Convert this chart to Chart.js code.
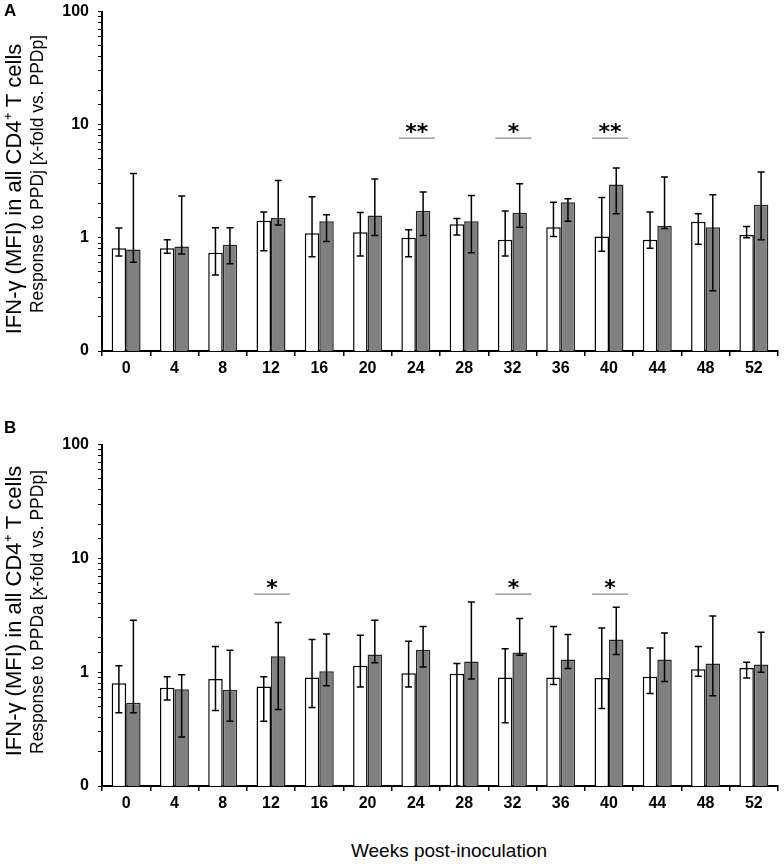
<!DOCTYPE html>
<html>
<head>
<meta charset="utf-8">
<script src="https://cdn.jsdelivr.net/npm/chart.js@4.4.0/dist/chart.umd.min.js"></script>
<style>
  body { margin: 0; background: #fff; width: 784px; height: 867px; position: relative; overflow: hidden;
         font-family: 'Liberation Sans', Arial, sans-serif; }
  canvas { position: absolute; left: 0; }
  #chartA { top: -7px; }
  #chartB { top: 426px; }
  .letter { position: absolute; left: 4px; font-weight: bold; font-size: 17px; line-height: 17px; }
  #xTitle { position: absolute; left: 249px; width: 400px; top: 840px; text-align: center;
            font-size: 19px; color: #000; }
</style>
</head>
<body>
<canvas id="chartA" width="784" height="390"></canvas>
<canvas id="chartB" width="784" height="390"></canvas>
<div class="letter" style="top:2px">A</div>
<div class="letter" style="top:419px">B</div>
<div id="xTitle">Weeks post-inoculation</div>
<script>
// week labels
const weeks = ['0', '4', '8', '12', '16', '20', '24', '28', '32', '36', '40', '44', '48', '52'];

// panel A (PPDj vs PPDp)
const aWhite   = [0.81, 0.81, 0.74, 1.42, 1.10, 1.12, 1.00, 1.32, 0.96, 1.24, 1.03, 0.96, 1.39, 1.06];
const aWhiteHi = [1.22, 0.96, 1.23, 1.69, 2.31, 1.68, 1.18, 1.48, 1.73, 2.06, 2.27, 1.69, 1.63, 1.26];
const aWhiteLo = [0.69, 0.73, 0.47, 0.77, 0.68, 0.69, 0.68, 1.06, 0.69, 1.03, 0.76, 0.81, 0.88, 1.00];
const aGray    = [0.79, 0.84, 0.87, 1.50, 1.40, 1.58, 1.74, 1.40, 1.67, 2.06, 2.97, 1.28, 1.24, 1.96];
const aGrayHi  = [3.70, 2.34, 1.23, 3.22, 1.60, 3.31, 2.54, 2.37, 3.01, 2.22, 4.14, 3.45, 2.41, 3.82];
const aGrayLo  = [0.61, 0.72, 0.59, 1.30, 0.93, 1.05, 1.05, 0.74, 1.24, 1.40, 1.63, 1.21, 0.34, 0.96];
const aSigWeeks = ['24', '32', '40'];
const aSigMarks = ['**', '*', '**'];

// panel B (PPDa vs PPDp)
const bWhite   = [0.80, 0.73, 0.87, 0.75, 0.90, 1.14, 0.98, 0.97, 0.90, 0.90, 0.89, 0.91, 1.06, 1.09];
const bWhiteHi = [1.14, 0.91, 1.68, 0.91, 1.94, 2.11, 1.87, 1.19, 1.61, 2.52, 2.45, 1.63, 1.68, 1.22];
const bWhiteLo = [0.44, 0.57, 0.46, 0.37, 0.49, 0.74, 0.74, 0.10, 0.36, 0.78, 0.48, 0.65, 0.92, 0.89];
const bGray    = [0.54, 0.71, 0.70, 1.38, 1.02, 1.43, 1.57, 1.24, 1.49, 1.29, 1.94, 1.29, 1.19, 1.17];
const bGrayHi  = [2.86, 0.95, 1.56, 2.73, 2.17, 2.86, 2.52, 4.14, 2.97, 2.14, 3.72, 2.21, 3.12, 2.24];
const bGrayLo  = [0.44, 0.27, 0.37, 0.47, 0.76, 1.21, 1.11, 0.87, 1.41, 1.08, 1.43, 0.83, 0.62, 1.00];
const bSigWeeks = ['12', '32', '40'];
const bSigMarks = ['*', '*', '*'];

const yTickValues = [0.1, 1, 10, 100];
const yTickText = ['0', '1', '10', '100'];

Chart.defaults.font.family = "'Liberation Sans', Arial, sans-serif";
Chart.defaults.color = '#000';

// error bars drawn on top of each bar
const errorBars = {
  id: 'errorBars',
  afterDatasetsDraw(chart) {
    const { ctx } = chart;
    const y = chart.scales.y;
    ctx.save();
    ctx.strokeStyle = '#000';
    ctx.lineWidth = 1.5;
    chart.data.datasets.forEach((ds, i) => {
      chart.getDatasetMeta(i).data.forEach((bar, j) => {
        const top = y.getPixelForValue(ds.errHi[j]);
        const bot = y.getPixelForValue(Math.max(ds.errLo[j], y.min));
        const x = bar.x;
        ctx.beginPath();
        ctx.moveTo(x, top); ctx.lineTo(x, bot);
        ctx.moveTo(x - 3.5, top); ctx.lineTo(x + 3.5, top);
        ctx.moveTo(x - 3.5, bot); ctx.lineTo(x + 3.5, bot);
        ctx.stroke();
      });
    });
    ctx.restore();
  }
};

// two-line y title and significance marks
const decor = {
  id: 'decor',
  afterDraw(chart, args, o) {
    const { ctx } = chart;
    const x = chart.scales.x, y = chart.scales.y;
    ctx.save();
    ctx.fillStyle = '#000';
    ctx.textAlign = 'center';
    ctx.textBaseline = 'middle';

    ctx.save();
    ctx.translate(15, o.title1Y);
    ctx.rotate(-Math.PI / 2);
    ctx.font = "22px 'Liberation Sans', Arial, sans-serif";
    ctx.fillText('IFN-\u03b3 (MFI) in all CD4\u207a T cells', 0, 0);
    ctx.restore();

    ctx.save();
    ctx.translate(38, o.title2Y);
    ctx.rotate(-Math.PI / 2);
    ctx.font = "17.5px 'Liberation Sans', Arial, sans-serif";
    ctx.fillText(o.title2, 0, 0);
    ctx.restore();

    const lineY = y.getPixelForValue(o.sigLevel);
    o.sigWeeks.forEach((w, k) => {
      const cx = x.getPixelForValue(weeks.indexOf(w)) + 1;
      ctx.strokeStyle = '#8a8a8a';
      ctx.lineWidth = 1.2;
      ctx.beginPath();
      ctx.moveTo(cx - 18, lineY); ctx.lineTo(cx + 18, lineY);
      ctx.stroke();
      ctx.textBaseline = 'alphabetic';
      ctx.font = "bold 22px 'DejaVu Sans', sans-serif";
      ctx.fillText(o.sigMarks[k], cx, lineY + 1);
    });
    ctx.restore();
  }
};

function makePanel(id, xHeight, white, whiteHi, whiteLo, gray, grayHi, grayLo, decorOpts) {
  return new Chart(document.getElementById(id), {
    type: 'bar',
    data: {
      labels: weeks,
      datasets: [
        { data: white, errHi: whiteHi, errLo: whiteLo, backgroundColor: '#ffffff',
          borderColor: '#000', borderWidth: 1.5 },
        { data: gray, errHi: grayHi, errLo: grayLo, backgroundColor: '#808080',
          borderColor: '#262626', borderWidth: 1.5 }
      ]
    },
    options: {
      responsive: false,
      animation: false,
      events: [],
      categoryPercentage: 0.6,
      barPercentage: 1.0,
      layout: { padding: { top: 4, right: 6, left: 0, bottom: 0 } },
      plugins: { legend: { display: false }, tooltip: { enabled: false }, decor: decorOpts },
      scales: {
        x: {
          grid: { display: true, drawOnChartArea: false, tickLength: 5, color: '#000', lineWidth: 1.5 },
          border: { display: true, color: '#000', width: 2 },
          ticks: { font: { size: 16, weight: 'bold' }, padding: 3, maxRotation: 0 },
          afterFit: s => { s.height = xHeight; }
        },
        y: {
          type: 'logarithmic',
          min: 0.1,
          max: 100,
          grid: { display: true, drawOnChartArea: false, tickLength: 4, color: '#000', lineWidth: 1 },
          border: { display: true, color: '#000', width: 2 },
          ticks: {
            autoSkip: false,
            font: { size: 16, weight: 'bold' },
            padding: 9,
            callback: v => {
              const k = yTickValues.findIndex(t => Math.abs(Math.log10(v) - Math.log10(t)) < 1e-6);
              return k >= 0 ? yTickText[k] : '';
            }
          },
          afterFit: s => { s.width = 102; }
        }
      }
    },
    plugins: [errorBars, decor]
  });
}

makePanel('chartA', 32, aWhite, aWhiteHi, aWhiteLo, aGray, aGrayHi, aGrayLo, {
  title1Y: 196, title2Y: 181,
  title2: 'Response to PPDj [x-fold vs. PPDp]',
  sigWeeks: aSigWeeks, sigMarks: aSigMarks, sigLevel: 7.6
});
makePanel('chartB', 30, bWhite, bWhiteHi, bWhiteLo, bGray, bGrayHi, bGrayLo, {
  title1Y: 185, title2Y: 186,
  title2: 'Response to PPDa [x-fold vs. PPDp]',
  sigWeeks: bSigWeeks, sigMarks: bSigMarks, sigLevel: 4.86
});
</script>
</body>
</html>
